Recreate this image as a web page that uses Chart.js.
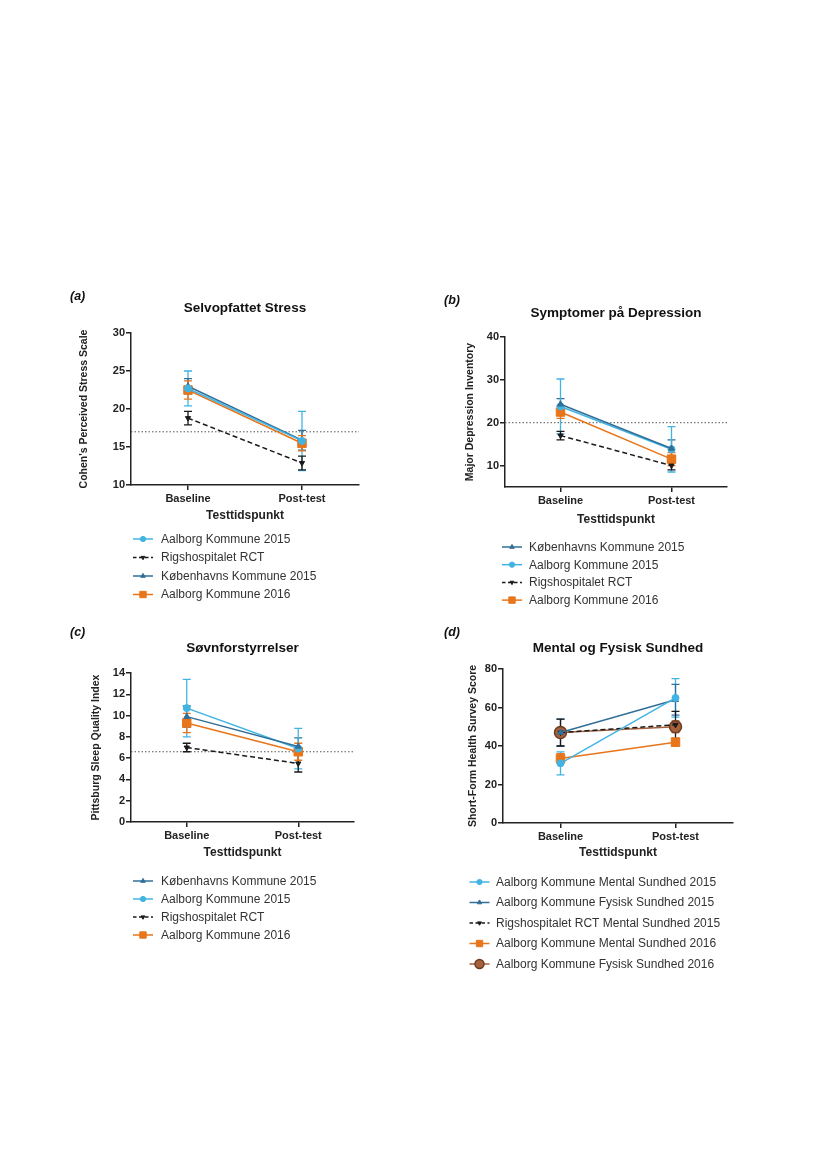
<!DOCTYPE html>
<html>
<head>
<meta charset="utf-8">
<script src="https://cdn.jsdelivr.net/npm/chart.js@4.4.0/dist/chart.umd.min.js"></script>
<style>
    body { margin: 0; background: #fff; width: 827px; height: 1169px; position: relative; overflow: hidden; }
    canvas { position: absolute; }
</style>
</head>
<body>
<canvas id="chartA" width="320" height="335" style="left:60px;top:285px;width:320px;height:335px"></canvas>
<canvas id="chartB" width="320" height="330" style="left:430px;top:290px;width:320px;height:330px"></canvas>
<canvas id="chartC" width="320" height="330" style="left:60px;top:620px;width:320px;height:330px"></canvas>
<canvas id="chartD" width="320" height="350" style="left:430px;top:625px;width:320px;height:350px"></canvas>
<script>
const categories = ['Baseline', 'Post-test'];

// (a) Selvopfattet Stress
const stressTicks = [10, 15, 20, 25, 30];
const stressCutoff = 17;
const stressAalborg15 = [22.7, 15.8];
const stressAalborg15Err = [2.3, 3.9];
const stressRigs = [18.8, 12.9];
const stressRigsErr = [0.9, 0.9];
const stressKbh15 = [23.0, 15.9];
const stressKbh15Err = [1.0, 1.3];
const stressAalborg16 = [22.5, 15.5];
const stressAalborg16Err = [1.2, 1.0];

// (b) Symptomer på Depression
const deprTicks = [10, 20, 30, 40];
const deprCutoff = 20;
const deprKbh15 = [24.3, 14.0];
const deprKbh15Err = [1.3, 2.0];
const deprAalborg15 = [23.8, 13.8];
const deprAalborg15Err = [6.4, 5.3];
const deprRigs = [17.0, 10.0];
const deprRigsErr = [1.0, 1.0];
const deprAalborg16 = [22.5, 11.5];
const deprAalborg16Err = [1.5, 1.5];

// (c) Søvnforstyrrelser
const sleepTicks = [0, 2, 4, 6, 8, 10, 12, 14];
const sleepCutoff = 6.6;
const sleepKbh15 = [9.9, 7.1];
const sleepKbh15Err = [1.0, 0.8];
const sleepAalborg15 = [10.7, 6.9];
const sleepAalborg15Err = [2.7, 1.9];
const sleepRigs = [7.0, 5.5];
const sleepRigsErr = [0.4, 0.8];
const sleepAalborg16 = [9.3, 6.6];
const sleepAalborg16Err = [0.9, 0.8];

// (d) Mental og Fysisk Sundhed
const healthTicks = [0, 20, 40, 60, 80];
const healthAalbMental15 = [31, 65];
const healthAalbMental15Err = [6, 10];
const healthAalbFysisk15 = [47, 64];
const healthAalbFysisk15Err = [7, 8];
const healthRigsMental15 = [47, 51];
const healthRigsMental15Err = [7, 7];
const healthAalbMental16 = [33.5, 42];
const healthAalbMental16Err = [2.5, 2];
const healthAalbFysisk16 = [47, 50];
const healthAalbFysisk16Err = [2, 3];

const FONT = "'Liberation Sans', Arial, sans-serif";
const AXIS = '#222';

const styles = {
    lightBlue: { color: '#41b4e4', pointStyle: 'circle', radius: 3.5 },
    darkBlue: { color: '#326f98', pointStyle: 'triangle', radius: 3.5 },
    black: { color: '#1a1a1a', pointStyle: 'triangle', radius: 3, rotation: 180, dash: [5, 3] },
    orange: { color: '#e8751a', pointStyle: 'rect', radius: 6 },
    brown: { color: '#a5603c', pointStyle: 'circle', radius: 6, border: '#6e3b22' }
};

function series(label, data, err, style) {
    return {
        label: label,
        data: data,
        err: err,
        borderColor: style.color,
        backgroundColor: style.color,
        borderWidth: 1.5,
        borderDash: style.dash || [],
        pointStyle: style.pointStyle,
        pointRadius: style.radius,
        pointRotation: style.rotation || 0,
        pointBackgroundColor: style.color,
        pointBorderColor: style.border || style.color,
        pointBorderWidth: style.border ? 1.5 : 1,
        tension: 0
    };
}

// legend markers are drawn a bit smaller than the plot markers
function drawMarker(ctx, ds, x, y) {
    const opts = {
        pointStyle: ds.pointStyle,
        radius: ds.pointRadius * 0.75,
        rotation: ds.pointRotation,
        borderWidth: ds.pointBorderWidth
    };
    ctx.save();
    ctx.setLineDash([]);
    ctx.fillStyle = ds.pointBackgroundColor;
    ctx.strokeStyle = ds.pointBorderColor;
    ctx.lineWidth = ds.pointBorderWidth;
    if (Chart.helpers && Chart.helpers.drawPoint) {
        Chart.helpers.drawPoint(ctx, opts, x, y);
    } else {
        ctx.beginPath();
        ctx.arc(x, y, opts.radius, 0, Math.PI * 2);
        ctx.fill();
        ctx.stroke();
    }
    ctx.restore();
}

const panelExtras = {
    id: 'panelExtras',
    beforeDatasetsDraw(chart, args, opts) {
        const ctx = chart.ctx;
        const area = chart.chartArea;
        const yScale = chart.scales.y;

        if (opts.cutoff != null) {
            const py = yScale.getPixelForValue(opts.cutoff);
            ctx.save();
            ctx.strokeStyle = '#555';
            ctx.lineWidth = 1;
            ctx.setLineDash([1.5, 2]);
            ctx.beginPath();
            ctx.moveTo(area.left, py);
            ctx.lineTo(area.right, py);
            ctx.stroke();
            ctx.restore();
        }

        // error bars (mean +/- err)
        chart.data.datasets.forEach((ds, i) => {
            const meta = chart.getDatasetMeta(i);
            ds.err.forEach((e, j) => {
                const px = meta.data[j].x;
                const top = yScale.getPixelForValue(ds.data[j] + e);
                const bot = yScale.getPixelForValue(ds.data[j] - e);
                ctx.save();
                ctx.strokeStyle = ds.borderColor;
                ctx.lineWidth = 1.3;
                ctx.setLineDash([]);
                ctx.beginPath();
                ctx.moveTo(px, top); ctx.lineTo(px, bot);
                ctx.moveTo(px - 4, top); ctx.lineTo(px + 4, top);
                ctx.moveTo(px - 4, bot); ctx.lineTo(px + 4, bot);
                ctx.stroke();
                ctx.restore();
            });
        });
    },
    afterDraw(chart, args, opts) {
        const ctx = chart.ctx;
        const area = chart.chartArea;
        ctx.save();
        ctx.fillStyle = '#111';
        ctx.textBaseline = 'middle';

        ctx.font = `italic bold 12.5px ${FONT}`;
        ctx.textAlign = 'left';
        ctx.fillText(opts.tag, opts.tagX, opts.tagY);

        ctx.font = `bold 13.5px ${FONT}`;
        ctx.textAlign = 'center';
        ctx.fillText(opts.title, (area.left + area.right) / 2, opts.titleY);

        // legend, one row per series
        ctx.font = `12px ${FONT}`;
        ctx.textAlign = 'left';
        chart.data.datasets.forEach((ds, i) => {
            const y = opts.legendY + i * opts.legendStep;
            ctx.save();
            ctx.strokeStyle = ds.borderColor;
            ctx.lineWidth = 1.5;
            ctx.setLineDash(ds.borderDash.length ? [3.5, 2.5] : []);
            ctx.beginPath();
            ctx.moveTo(opts.legendX - 10, y);
            ctx.lineTo(opts.legendX + 10, y);
            ctx.stroke();
            ctx.restore();
            drawMarker(ctx, ds, opts.legendX, y);
            ctx.fillStyle = '#333';
            ctx.fillText(ds.label, opts.textX, y + 0.5);
        });
        ctx.restore();
    }
};

function makePanel(id, cfg) {
    const canvas = document.getElementById(id);
    const W = canvas.width, H = canvas.height;
    const tickMarks = { display: true, drawOnChartArea: false, drawTicks: true, tickLength: 5, color: AXIS, lineWidth: 1.5 };
    return new Chart(canvas, {
        type: 'line',
        data: { labels: categories, datasets: cfg.datasets },
        options: {
            responsive: false,
            animation: false,
            events: [],
            layout: {
                padding: {
                    left: cfg.padL,
                    top: cfg.area.top,
                    right: W - cfg.area.right,
                    bottom: H - cfg.area.bottom - cfg.xH
                }
            },
            plugins: {
                legend: { display: false },
                tooltip: { enabled: false },
                title: { display: false },
                panelExtras: cfg.extras
            },
            scales: {
                x: {
                    type: 'category',
                    offset: true,
                    grid: tickMarks,
                    border: { display: true, color: AXIS, width: 1.5 },
                    ticks: { color: AXIS, font: { family: FONT, size: 11, weight: 'bold' }, padding: 2, maxRotation: 0 },
                    title: {
                        display: true, text: 'Testtidspunkt', color: AXIS,
                        font: { family: FONT, size: 12, weight: 'bold' }, padding: { top: 0, bottom: 0 }
                    },
                    afterFit: s => { s.height = cfg.xH; }
                },
                y: {
                    min: cfg.min,
                    max: cfg.max,
                    afterBuildTicks: s => { s.ticks = cfg.ticks.map(v => ({ value: v })); },
                    grid: tickMarks,
                    border: { display: true, color: AXIS, width: 1.5 },
                    ticks: { color: AXIS, font: { family: FONT, size: 11, weight: 'bold' }, padding: 1 },
                    title: {
                        display: true, text: cfg.yTitle, color: AXIS,
                        font: { family: FONT, size: 10.5, weight: 'bold' }, padding: { top: cfg.yTitlePad, bottom: 0 }
                    },
                    afterFit: s => { s.width = cfg.area.left - cfg.padL; }
                }
            }
        },
        plugins: [panelExtras]
    });
}

makePanel('chartA', {
    min: 10, max: 30, ticks: stressTicks,
    yTitle: "Cohen's Perceived Stress Scale",
    padL: 10, yTitlePad: 7.7, xH: 38,
    area: { left: 71, top: 48, right: 299, bottom: 200 },
    datasets: [
        series('Aalborg Kommune 2015', stressAalborg15, stressAalborg15Err, styles.lightBlue),
        series('Rigshospitalet RCT', stressRigs, stressRigsErr, styles.black),
        series('Københavns Kommune 2015', stressKbh15, stressKbh15Err, styles.darkBlue),
        series('Aalborg Kommune 2016', stressAalborg16, stressAalborg16Err, styles.orange)
    ],
    extras: {
        tag: '(a)', tagX: 10, tagY: 12, title: 'Selvopfattet Stress', titleY: 23,
        cutoff: stressCutoff, legendX: 83, textX: 101, legendY: 254, legendStep: 18.5
    }
});

makePanel('chartB', {
    min: 5, max: 40, ticks: deprTicks,
    yTitle: 'Major Depression Inventory',
    padL: 25, yTitlePad: 8.7, xH: 40,
    area: { left: 75, top: 47, right: 297, bottom: 197 },
    datasets: [
        series('Københavns Kommune 2015', deprKbh15, deprKbh15Err, styles.darkBlue),
        series('Aalborg Kommune 2015', deprAalborg15, deprAalborg15Err, styles.lightBlue),
        series('Rigshospitalet RCT', deprRigs, deprRigsErr, styles.black),
        series('Aalborg Kommune 2016', deprAalborg16, deprAalborg16Err, styles.orange)
    ],
    extras: {
        tag: '(b)', tagX: 14, tagY: 11, title: 'Symptomer på Depression', titleY: 23,
        cutoff: deprCutoff, legendX: 82, textX: 99, legendY: 257, legendStep: 17.7
    }
});

makePanel('chartC', {
    min: 0, max: 14, ticks: sleepTicks,
    yTitle: 'Pittsburg Sleep Quality Index',
    padL: 20, yTitlePad: 9.7, xH: 38,
    area: { left: 71, top: 53, right: 294, bottom: 202 },
    datasets: [
        series('Københavns Kommune 2015', sleepKbh15, sleepKbh15Err, styles.darkBlue),
        series('Aalborg Kommune 2015', sleepAalborg15, sleepAalborg15Err, styles.lightBlue),
        series('Rigshospitalet RCT', sleepRigs, sleepRigsErr, styles.black),
        series('Aalborg Kommune 2016', sleepAalborg16, sleepAalborg16Err, styles.orange)
    ],
    extras: {
        tag: '(c)', tagX: 10, tagY: 13, title: 'Søvnforstyrrelser', titleY: 28,
        cutoff: sleepCutoff, legendX: 83, textX: 101, legendY: 261, legendStep: 18
    }
});

makePanel('chartD', {
    min: 0, max: 80, ticks: healthTicks,
    yTitle: 'Short-Form Health Survey Score',
    padL: 28, yTitlePad: 8.7, xH: 37,
    area: { left: 73, top: 44, right: 303, bottom: 198 },
    datasets: [
        series('Aalborg Kommune Mental Sundhed 2015', healthAalbMental15, healthAalbMental15Err, styles.lightBlue),
        series('Aalborg Kommune Fysisk Sundhed 2015', healthAalbFysisk15, healthAalbFysisk15Err, styles.darkBlue),
        series('Rigshospitalet RCT Mental Sundhed 2015', healthRigsMental15, healthRigsMental15Err, styles.black),
        series('Aalborg Kommune Mental Sundhed 2016', healthAalbMental16, healthAalbMental16Err, styles.orange),
        series('Aalborg Kommune Fysisk Sundhed 2016', healthAalbFysisk16, healthAalbFysisk16Err, styles.brown)
    ],
    extras: {
        tag: '(d)', tagX: 14, tagY: 8, title: 'Mental og Fysisk Sundhed', titleY: 23,
        cutoff: null, legendX: 49.5, textX: 66, legendY: 257, legendStep: 20.5
    }
});
</script>
</body>
</html>
